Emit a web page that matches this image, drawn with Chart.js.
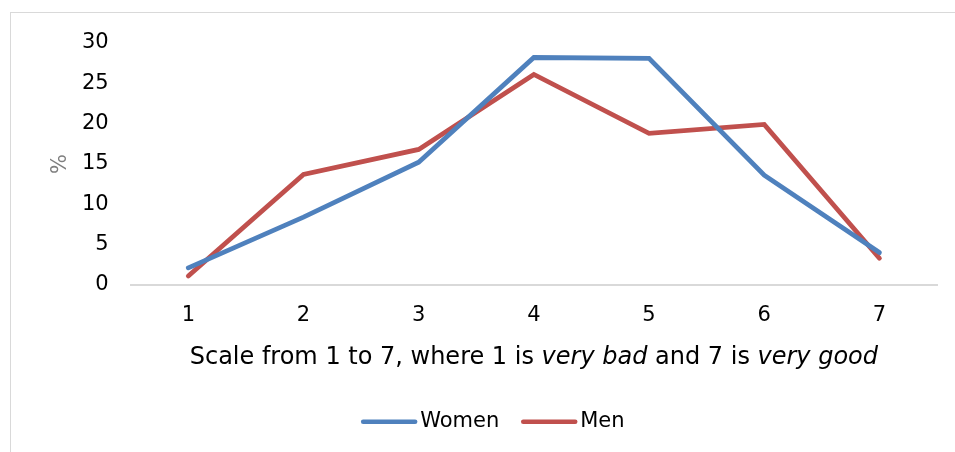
<!DOCTYPE html>
<html>
<head>
<meta charset="utf-8">
<script src="https://cdn.jsdelivr.net/npm/chart.js@4.4.1/dist/chart.umd.min.js"></script>
<style>
html,body{margin:0;padding:0;background:#fff;}
#wrap{position:relative;width:955px;height:452px;overflow:hidden;}
#frame{position:absolute;left:10px;top:12px;width:1000px;height:500px;border-left:1px solid #d9d9d9;border-top:1px solid #d9d9d9;}
canvas{position:absolute;left:0;top:0;}
</style>
</head>
<body>
<div id="wrap"><div id="frame"></div><canvas id="c" width="955" height="452"></canvas></div>
<script>
const categories = ['1','2','3','4','5','6','7'];
const women = [2.1, 8.4, 15.2, 28.2, 28.1, 13.6, 4.0];
const men = [1.1, 13.7, 16.8, 26.1, 18.8, 19.9, 3.3];
const seriesNames = ['Women', 'Men'];
const yTicks = [0, 5, 10, 15, 20, 25, 30];
const yTitle = '%';
const xTitleParts = [
  ['Scale from 1 to 7, where 1 is ', false],
  ['very bad', true],
  [' and 7 is ', false],
  ['very good', true]
];

const FONT = 'DejaVu Sans';
const FS = 21;
const TITLE_FS = 24;

function fontStr(size, italic) {
  return (italic ? 'italic ' : '') + size + 'px "' + FONT + '"';
}

const overlayPlugin = {
  id: 'overlayPlugin',
  afterDraw(chart) {
    const ctx = chart.ctx;
    const xs = chart.scales.x;
    const area = chart.chartArea;
    ctx.save();
    ctx.textBaseline = 'middle';
    ctx.textAlign = 'left';
    ctx.fillStyle = '#000';
    // x-axis title with italic parts
    const widths = xTitleParts.map(p => { ctx.font = fontStr(TITLE_FS, p[1]); return ctx.measureText(p[0]).width; });
    const total = widths.reduce((a, b) => a + b, 0);
    let x = (area.left + area.right) / 2 - total / 2;
    const ty = xs.top + 73;
    xTitleParts.forEach((p, i) => {
      ctx.font = fontStr(TITLE_FS, p[1]);
      ctx.fillText(p[0], x, ty);
      x += widths[i];
    });
    // y-axis title
    ctx.save();
    ctx.translate(area.left - 70, (area.top + area.bottom) / 2);
    ctx.rotate(-Math.PI / 2);
    ctx.textAlign = 'center';
    ctx.fillStyle = '#7f7f7f';
    ctx.font = fontStr(FS, false);
    ctx.fillText(yTitle, 0, 0);
    ctx.restore();
    // legend
    const ly = xs.top + 137;
    const lineLen = 56, gap = 3, itemGap = 22;
    ctx.font = fontStr(FS, false);
    const items = chart.data.datasets.map(ds => ({ label: ds.label, color: ds.borderColor, w: ctx.measureText(ds.label).width }));
    let lw = 0;
    items.forEach((it, i) => { lw += lineLen + gap + it.w + (i < items.length - 1 ? itemGap : 0); });
    let lx = (area.left + area.right) / 2 - 41 - lw / 2;
    items.forEach(it => {
      ctx.strokeStyle = it.color;
      ctx.lineWidth = 4.5;
      ctx.lineCap = 'round';
      ctx.beginPath();
      ctx.moveTo(lx + 2, ly);
      ctx.lineTo(lx + lineLen - 2, ly);
      ctx.stroke();
      ctx.fillStyle = '#000';
      ctx.fillText(it.label, lx + lineLen + gap, ly);
      lx += lineLen + gap + it.w + itemGap;
    });
    ctx.restore();
  }
};

new Chart(document.getElementById('c'), {
  type: 'line',
  data: {
    labels: categories,
    datasets: [
      { label: seriesNames[0], data: women, borderColor: '#4F81BD', backgroundColor: '#4F81BD', borderWidth: 4.8, pointRadius: 0, tension: 0, borderCapStyle: 'round', borderJoinStyle: 'miter' },
      { label: seriesNames[1], data: men, borderColor: '#C0504D', backgroundColor: '#C0504D', borderWidth: 4.8, pointRadius: 0, tension: 0, borderCapStyle: 'round', borderJoinStyle: 'miter' }
    ]
  },
  options: {
    responsive: false,
    animation: false,
    layout: { padding: { left: 60, right: 18, top: 43, bottom: 106 } },
    plugins: {
      tooltip: { enabled: false },
      legend: { display: false }
    },
    scales: {
      x: {
        offset: true,
        grid: { display: false, drawTicks: false },
        border: { display: true, color: '#d9d9d9', width: 2 },
        ticks: { color: '#000', padding: 18, font: { family: FONT, size: FS } }
      },
      y: {
        min: 0, max: 30,
        afterBuildTicks(axis) { axis.ticks = yTicks.map(v => ({ value: v })); },
        grid: { display: false, drawTicks: false },
        border: { display: false },
        ticks: { color: '#000', padding: 22, font: { family: FONT, size: FS } }
      }
    }
  },
  plugins: [overlayPlugin]
});
</script>
</body>
</html>
